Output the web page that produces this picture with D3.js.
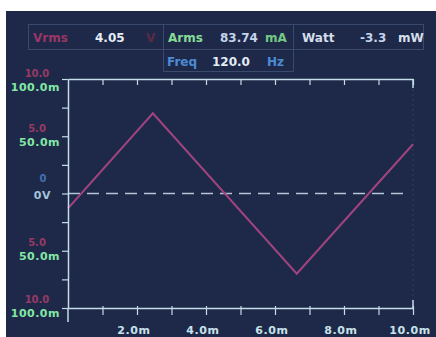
<!DOCTYPE html>
<html><head><meta charset="utf-8">
<script src="https://cdn.jsdelivr.net/npm/d3@7"></script>
<style>
html,body{margin:0;padding:0;background:#fff;}
svg{display:block;}
text{font-family:"DejaVu Sans",sans-serif;font-weight:bold;}
</style></head>
<body>
<script>
// ---- data ----
const timeMs = [0, 2.46, 6.63, 10.0];
const volts = [-1.3, 7.0, -7.0, 4.3];
const xTickVals = [1,2,3,4,5,6,7,8,9,10];
const xTickLabels = ["", "2.0m", "", "4.0m", "", "6.0m", "", "8.0m", "", "10.0m"];
const yTickVals = [-10,-7.5,-5,-2.5,0,2.5,5,7.5,10];
const yLabelVals = [10, 5, 0, -5, -10];
const voltLabels = ["10.0", "5.0", "0", "5.0", "10.0"];
const currLabels = ["100.0m", "50.0m", "0V", "50.0m", "100.0m"];
const headerRow1 = [
  {t:"Vrms", c:"#9a3664"}, {t:"4.05", c:"#e4ecf4"}, {t:"V", c:"#5e2a46"},
  {t:"Arms", c:"#86dc96"}, {t:"83.74", c:"#c4d4ea"}, {t:"mA", c:"#74c884"},
  {t:"Watt", c:"#d4dfea"}, {t:"-3.3", c:"#c4d4ea"}, {t:"mW", c:"#d4dfea"}
];
const headerRow2 = [
  {t:"Freq", c:"#4c8cd4"}, {t:"120.0", c:"#e4ecf4"}, {t:"Hz", c:"#4c8cd4"}
];

const W = 436, H = 337;
const svg = d3.select("body").append("svg").attr("width", W).attr("height", H);
svg.append("rect").attr("x",0).attr("y",0).attr("width",W).attr("height",H).attr("fill","#ffffff");
svg.append("rect").attr("x",6).attr("y",11).attr("width",W-6).attr("height",H-11).attr("fill","#1e2949");

// header boxes
const boxC = "#3a4a6e";
const hb = svg.append("g").attr("fill","none").attr("stroke",boxC).attr("stroke-width",1);
hb.append("rect").attr("x",28.5).attr("y",24.5).attr("width",395).attr("height",25);
hb.append("line").attr("x1",163.5).attr("x2",163.5).attr("y1",24.5).attr("y2",71.5);
hb.append("line").attr("x1",293.5).attr("x2",293.5).attr("y1",24.5).attr("y2",71.5);
hb.append("line").attr("x1",163.5).attr("x2",293.5).attr("y1",71.5).attr("y2",71.5);

const row1X = [33, 95, 146, 168, 220, 265, 302, 360, 398];
const row2X = [167, 212, 267];
svg.append("g").selectAll("text").data(headerRow1).join("text")
  .attr("x",(d,i)=>row1X[i]).attr("y",42).attr("font-size",12)
  .attr("fill",d=>d.c).text(d=>d.t);
svg.append("g").selectAll("text").data(headerRow2).join("text")
  .attr("x",(d,i)=>row2X[i]).attr("y",66).attr("font-size",12)
  .attr("fill",d=>d.c).text(d=>d.t);

// scales
const x = d3.scaleLinear().domain([0,10]).range([68,413]);
const y = d3.scaleLinear().domain([-10,10]).range([308,79]);
const axC = "#c4dde6";

// faint right dotted border
svg.append("line").attr("x1",413).attr("x2",413).attr("y1",79).attr("y2",308)
  .attr("stroke","#2e3f62").attr("stroke-dasharray","2,3");

// zero dashed line
svg.append("line").attr("x1",x(0)).attr("x2",408).attr("y1",y(0)).attr("y2",y(0))
  .attr("stroke","#b4c6d6").attr("stroke-width",1.5).attr("stroke-dasharray","12,7");

// trace
const pts = timeMs.map((t,i)=>[t, volts[i]]);
svg.append("path").datum(pts)
  .attr("d", d3.line().x(d=>x(d[0])).y(d=>y(d[1])))
  .attr("fill","none").attr("stroke","#a0447f").attr("stroke-width",2);

// bottom axis
const xb = svg.append("g").attr("transform","translate(0,308)")
  .call(d3.axisBottom(x).tickValues(xTickVals).tickSize(7).tickSizeOuter(0).tickFormat(""));
xb.select(".domain").attr("stroke",axC).attr("stroke-width",1.5);
xb.selectAll(".tick line").attr("stroke",axC).attr("stroke-width",1.2).attr("y1",-2);
// top axis
const xt = svg.append("g").attr("transform","translate(0,79)")
  .call(d3.axisBottom(x).tickValues(xTickVals).tickSize(6).tickSizeOuter(0).tickFormat(""));
xt.select(".domain").attr("stroke",axC).attr("stroke-width",1.5);
xt.selectAll(".tick line").attr("stroke",axC).attr("stroke-width",1.2);
// left axis
const yl = svg.append("g").attr("transform","translate(68,0)")
  .call(d3.axisLeft(y).tickValues(yTickVals).tickSize(6).tickSizeOuter(0).tickFormat(""));
yl.select(".domain").attr("stroke",axC).attr("stroke-width",1.5);
yl.selectAll(".tick line").attr("stroke",axC).attr("stroke-width",1.2);
svg.append("line").attr("x1",68).attr("x2",68).attr("y1",308).attr("y2",322)
  .attr("stroke",axC).attr("stroke-width",1.5);
// right bracket ends
svg.append("line").attr("x1",413).attr("x2",413).attr("y1",79).attr("y2",88).attr("stroke",axC).attr("stroke-width",1.5);
svg.append("line").attr("x1",413).attr("x2",413).attr("y1",300).attr("y2",308).attr("stroke",axC).attr("stroke-width",1.5);

// x labels
svg.append("g").selectAll("text").data(xTickVals).join("text")
  .attr("x",d=>x(d)-3).attr("y",334).attr("text-anchor","middle")
  .attr("font-size",11).attr("letter-spacing",0.6).attr("fill","#c8e2ea")
  .text((d,i)=>xTickLabels[i]);

// y labels
const greenY = [87, 142, 195, 256, 313];
const magY = [73, 128, 178, 242, 299];
svg.append("g").selectAll("text").data(yLabelVals).join("text")
  .attr("x",(d,i)=> i===2 ? 43 : 37).attr("y",(d,i)=>magY[i]+4).attr("text-anchor","middle")
  .attr("font-size",10).attr("fill",(d,i)=> i===2 ? "#4470b4" : "#963a64")
  .text((d,i)=>voltLabels[i]);
svg.append("g").selectAll("text").data(yLabelVals).join("text")
  .attr("x",(d,i)=> i===2 ? 51 : 60).attr("y",(d,i)=>greenY[i]+4).attr("text-anchor","end")
  .attr("font-size",11).attr("letter-spacing",0.5)
  .attr("fill",(d,i)=> i===2 ? "#a2c2da" : "#82e6a4")
  .text((d,i)=>currLabels[i]);
</script>
</body></html>
